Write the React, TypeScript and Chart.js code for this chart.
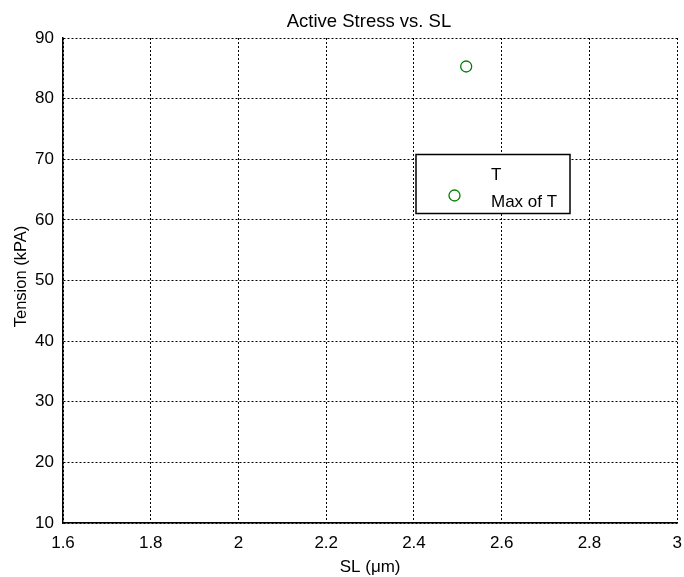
import React, { useEffect, useRef } from "react";
import { Chart, registerables } from "chart.js";
Chart.register(...registerables);

const titleText = "Active Stress vs. SL";
const xTitle = "SL (\u03bcm)";
const yTitle = "Tension (kPA)";
const xTicks = [1.6, 1.8, 2, 2.2, 2.4, 2.6, 2.8, 3];
const yTicks = [10, 20, 30, 40, 50, 60, 70, 80, 90];
const tSL: number[] = [];
const tTension: number[] = [];
const maxSL = [2.519];
const maxTension = [85.3];
const legendLabels = ["T", "Max of T"];

const FONT = "'Liberation Sans', Arial, Helvetica, sans-serif";
const GREEN = "rgb(0,128,0)";

const overlay = {
  id: "overlay",
  beforeDraw(chart: any) {
    const c = chart.ctx;
    c.save();
    c.fillStyle = "#fff";
    c.fillRect(0, 0, chart.width, chart.height);
    c.restore();
  },
  afterDraw(chart: any) {
    const ctx = chart.ctx;
    const a = chart.chartArea;
    ctx.save();
    ctx.fillStyle = "#000";
    ctx.textAlign = "center";
    ctx.textBaseline = "alphabetic";
    ctx.font = `18.5px ${FONT}`;
    ctx.fillText(titleText, 369, 27);
    ctx.font = `17px ${FONT}`;
    ctx.fillText(xTitle, (a.left + a.right) / 2, 572);
    ctx.save();
    ctx.translate(26, (a.top + a.bottom) / 2 - 4);
    ctx.rotate(-Math.PI / 2);
    ctx.font = `16.5px ${FONT}`;
    ctx.fillText(yTitle, 0, 0);
    ctx.restore();

    // legend box
    const bx = 416, by = 154.5, bw = 154, bh = 59;
    ctx.fillStyle = "#fff";
    ctx.fillRect(bx, by, bw, bh);
    ctx.strokeStyle = "#000";
    ctx.lineWidth = 1.5;
    ctx.strokeRect(bx, by, bw, bh);
    ctx.textAlign = "left";
    ctx.fillStyle = "#000";
    ctx.font = `17px ${FONT}`;
    ctx.fillText(legendLabels[0], 491, 180);
    ctx.fillText(legendLabels[1], 491, 206.5);
    ctx.beginPath();
    ctx.arc(454.5, 195.5, 5.5, 0, Math.PI * 2);
    ctx.strokeStyle = GREEN;
    ctx.lineWidth = 1.3;
    ctx.stroke();
    ctx.restore();
  },
};

export default function App() {
  const ref = useRef<HTMLCanvasElement>(null);
  useEffect(() => {
    if (!ref.current) return;
    const chart = new Chart(ref.current, {
      type: "scatter",
      data: {
        datasets: [
          {
            label: legendLabels[0],
            data: tSL.map((x, i) => ({ x, y: tTension[i] })),
            borderColor: "rgba(0,0,255,1)",
            pointRadius: 0,
          },
          {
            label: legendLabels[1],
            data: maxSL.map((x, i) => ({ x, y: maxTension[i] })),
            borderColor: GREEN,
            backgroundColor: "rgba(0,0,0,0)",
            borderWidth: 1.3,
            pointRadius: 5.5,
            pointStyle: "circle",
          },
        ],
      },
      options: {
        responsive: false,
        animation: false,
        layout: { padding: { top: 38, right: 1, left: 0, bottom: 0 } },
        plugins: { legend: { display: false }, title: { display: false }, tooltip: { enabled: false } },
        scales: {
          x: {
            type: "linear",
            min: 1.6,
            max: 3,
            afterBuildTicks: (s: any) => {
              s.ticks = xTicks.map((v) => ({ value: v }));
            },
            afterFit: (s: any) => {
              s.height = 54;
              s.paddingLeft = 0;
              s.paddingRight = 0;
            },
            ticks: {
              color: "#000",
              font: { family: FONT, size: 17 },
              padding: 10,
              maxRotation: 0,
              callback: (v: any) => String(v),
            },
            grid: { color: "#000", lineWidth: 1, drawTicks: false, tickLength: 0 },
            border: { display: true, color: "#000", width: 1.5, dash: [2, 2] },
          },
          y: {
            type: "linear",
            min: 10,
            max: 90,
            afterBuildTicks: (s: any) => {
              s.ticks = yTicks.map((v) => ({ value: v }));
            },
            afterFit: (s: any) => {
              s.width = 63;
              s.paddingTop = 0;
              s.paddingBottom = 0;
            },
            ticks: {
              color: "#000",
              font: { family: FONT, size: 17 },
              padding: 9,
              callback: (v: any) => String(v),
            },
            grid: { color: "#000", lineWidth: 1, drawTicks: false, tickLength: 0 },
            border: { display: true, color: "#000", width: 1.5, dash: [2, 2] },
          },
        },
      },
      plugins: [overlay],
    } as any);
    return () => chart.destroy();
  }, []);
  return (
    <div style={{ position: "fixed", left: 0, top: 0, width: 684, height: 577, background: "#fff" }}>
      <canvas ref={ref} width={684} height={577} />
    </div>
  );
}
